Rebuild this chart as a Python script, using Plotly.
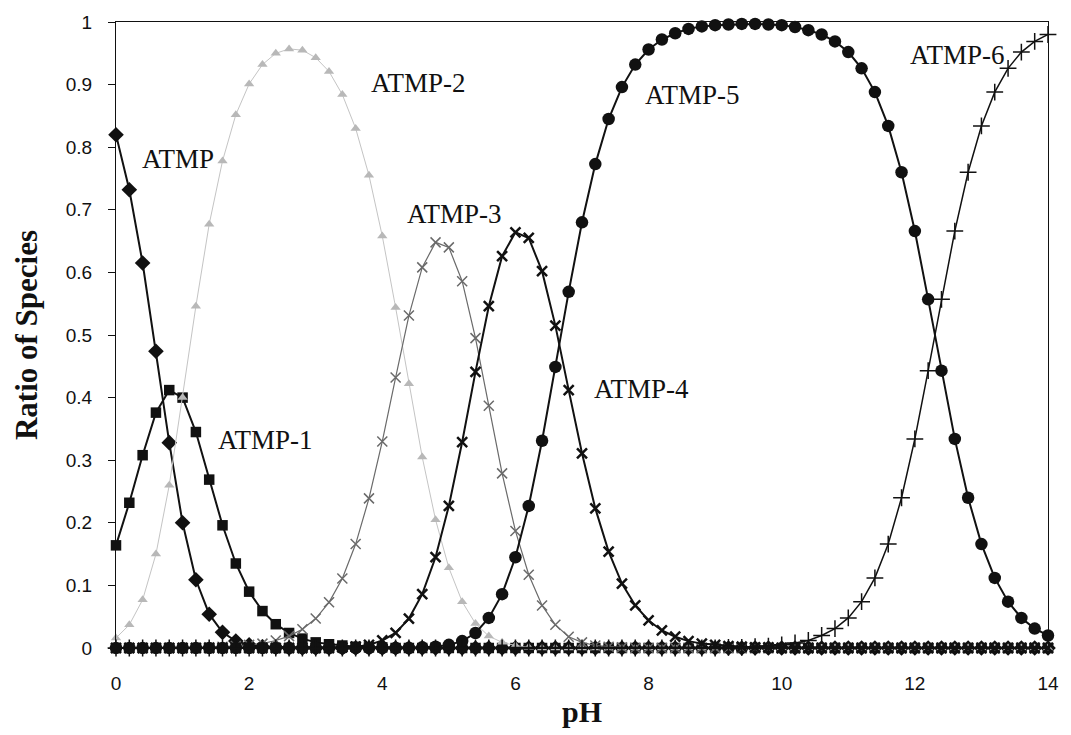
import plotly.graph_objects as go

# pH grid (step 0.2)
ph = [
    0.0, 0.2, 0.4, 0.6, 0.8, 1.0, 1.2, 1.4, 1.6, 1.8,
    2.0, 2.2, 2.4, 2.6, 2.8, 3.0, 3.2, 3.4, 3.6, 3.8,
    4.0, 4.2, 4.4, 4.6, 4.8, 5.0, 5.2, 5.4, 5.6, 5.8,
    6.0, 6.2, 6.4, 6.6, 6.8, 7.0, 7.2, 7.4, 7.6, 7.8,
    8.0, 8.2, 8.4, 8.6, 8.8, 9.0, 9.2, 9.4, 9.6, 9.8,
    10.0, 10.2, 10.4, 10.6, 10.8, 11.0, 11.2, 11.4, 11.6, 11.8,
    12.0, 12.2, 12.4, 12.6, 12.8, 13.0, 13.2, 13.4, 13.6, 13.8,
    14.0,
]

# species fractions
atmp = [
    0.820, 0.732, 0.615, 0.474, 0.328, 0.200, 0.109, 0.054, 0.025, 0.011,
    0.005, 0.002, 0.001, 0, 0, 0, 0, 0, 0, 0,
    0, 0, 0, 0, 0, 0, 0, 0, 0, 0,
    0, 0, 0, 0, 0, 0, 0, 0, 0, 0,
    0, 0, 0, 0, 0, 0, 0, 0, 0, 0,
    0, 0, 0, 0, 0, 0, 0, 0, 0, 0,
    0, 0, 0, 0, 0, 0, 0, 0, 0, 0,
    0,
]
atmp_1 = [
    0.164, 0.232, 0.308, 0.376, 0.412, 0.400, 0.345, 0.269, 0.196, 0.135,
    0.090, 0.059, 0.038, 0.024, 0.015, 0.009, 0.006, 0.004, 0.002, 0.001,
    0.001, 0, 0, 0, 0, 0, 0, 0, 0, 0,
    0, 0, 0, 0, 0, 0, 0, 0, 0, 0,
    0, 0, 0, 0, 0, 0, 0, 0, 0, 0,
    0, 0, 0, 0, 0, 0, 0, 0, 0, 0,
    0, 0, 0, 0, 0, 0, 0, 0, 0, 0,
    0,
]
atmp_2 = [
    0.016, 0.037, 0.077, 0.150, 0.260, 0.400, 0.546, 0.677, 0.778, 0.852,
    0.901, 0.932, 0.950, 0.957, 0.955, 0.943, 0.921, 0.884, 0.830, 0.755,
    0.658, 0.544, 0.422, 0.305, 0.205, 0.128, 0.074, 0.039, 0.019, 0.009,
    0.004, 0.001, 0, 0, 0, 0, 0, 0, 0, 0,
    0, 0, 0, 0, 0, 0, 0, 0, 0, 0,
    0, 0, 0, 0, 0, 0, 0, 0, 0, 0,
    0, 0, 0, 0, 0, 0, 0, 0, 0, 0,
    0,
]
atmp_3 = [
    0, 0, 0, 0, 0, 0, 0, 0.001, 0.002, 0.003,
    0.005, 0.007, 0.012, 0.019, 0.030, 0.047, 0.073, 0.111, 0.166, 0.239,
    0.330, 0.432, 0.531, 0.608, 0.648, 0.640, 0.586, 0.495, 0.387, 0.279,
    0.187, 0.117, 0.068, 0.037, 0.018, 0.009, 0.004, 0.002, 0.001, 0,
    0, 0, 0, 0, 0, 0, 0, 0, 0, 0,
    0, 0, 0, 0, 0, 0, 0, 0, 0, 0,
    0, 0, 0, 0, 0, 0, 0, 0, 0, 0,
    0,
]
atmp_4 = [
    0, 0, 0, 0, 0, 0, 0, 0, 0, 0,
    0, 0, 0, 0, 0, 0, 0, 0.001, 0.002, 0.005,
    0.012, 0.024, 0.047, 0.086, 0.145, 0.227, 0.329, 0.441, 0.546, 0.626,
    0.664, 0.655, 0.602, 0.515, 0.412, 0.311, 0.223, 0.154, 0.103, 0.068,
    0.044, 0.028, 0.018, 0.011, 0.007, 0.005, 0.003, 0.002, 0.001, 0.001,
    0, 0, 0, 0, 0, 0, 0, 0, 0, 0,
    0, 0, 0, 0, 0, 0, 0, 0, 0, 0,
    0,
]
atmp_5 = [
    0, 0, 0, 0, 0, 0, 0, 0, 0, 0,
    0, 0, 0, 0, 0, 0, 0, 0, 0, 0,
    0, 0, 0, 0.001, 0.002, 0.005, 0.011, 0.024, 0.048, 0.086,
    0.145, 0.227, 0.331, 0.449, 0.569, 0.680, 0.773, 0.845, 0.896, 0.932,
    0.956, 0.972, 0.982, 0.989, 0.993, 0.995, 0.996, 0.997, 0.997, 0.996,
    0.995, 0.992, 0.987, 0.980, 0.969, 0.952, 0.926, 0.888, 0.834, 0.760,
    0.666, 0.557, 0.443, 0.334, 0.240, 0.166, 0.112, 0.074, 0.048, 0.031,
    0.020,
]
atmp_6 = [
    0, 0, 0, 0, 0, 0, 0, 0, 0, 0,
    0, 0, 0, 0, 0, 0, 0, 0, 0, 0,
    0, 0, 0, 0, 0, 0, 0, 0, 0, 0,
    0, 0, 0, 0, 0, 0, 0, 0, 0, 0,
    0, 0, 0, 0, 0, 0, 0.001, 0.001, 0.002, 0.003,
    0.005, 0.008, 0.012, 0.020, 0.031, 0.048, 0.074, 0.112, 0.166, 0.240,
    0.334, 0.443, 0.557, 0.666, 0.760, 0.834, 0.888, 0.926, 0.952, 0.969,
    0.980,
]

# curve labels and where they sit (pH, ratio)
label_text = ["ATMP", "ATMP-1", "ATMP-2", "ATMP-3", "ATMP-4", "ATMP-5", "ATMP-6"]
label_x = [0.93, 2.25, 4.55, 5.09, 7.90, 8.66, 12.64]
label_y = [0.781, 0.332, 0.903, 0.694, 0.413, 0.884, 0.948]

BLACK = "#111111"
series = [
    (atmp, dict(symbol="diamond", size=12, color=BLACK), dict(color=BLACK, width=2)),
    (atmp_1, dict(symbol="square", size=10.5, color=BLACK), dict(color=BLACK, width=2)),
    (atmp_2, dict(symbol="triangle-up", size=9, color="#b8b8b8"), dict(color="#c4c4c4", width=1)),
    (atmp_3, dict(symbol="x-thin-open", size=10, color="#6a6a6a",
                  line=dict(color="#6a6a6a", width=1.5)), dict(color="#6a6a6a", width=1.2)),
    (atmp_4, dict(symbol="x-thin-open", size=10, color=BLACK,
                  line=dict(color=BLACK, width=2.5)), dict(color=BLACK, width=2)),
    (atmp_5, dict(symbol="circle", size=12.5, color=BLACK), dict(color=BLACK, width=2)),
    (atmp_6, dict(symbol="cross-thin-open", size=12, color=BLACK,
                  line=dict(color=BLACK, width=1.5)), dict(color=BLACK, width=1.5)),
]

fig = go.Figure()
for (vals, mk, ln), name in zip(series, label_text):
    fig.add_trace(go.Scatter(
        x=ph, y=vals, name=name, mode="lines+markers",
        marker=mk, line=ln, cliponaxis=False, hoverinfo="skip",
    ))

for t, xx, yy in zip(label_text, label_x, label_y):
    fig.add_annotation(
        x=xx, y=yy, xref="x", yref="y", text=t, showarrow=False,
        font=dict(family="Liberation Serif", size=27, color=BLACK),
        xanchor="center", yanchor="middle",
    )

fig.update_layout(
    width=1071, height=735,
    margin=dict(l=116, r=18, t=22, b=83),
    paper_bgcolor="white", plot_bgcolor="white",
    showlegend=False,
    font=dict(family="Liberation Sans", size=19, color=BLACK),
)
fig.update_xaxes(
    range=[0, 14], dtick=2, tick0=0, showgrid=False, zeroline=False,
    showline=True, linecolor=BLACK, linewidth=1, mirror=True,
    ticks="", ticklabelstandoff=18,
    title=dict(text="<b>pH</b>", font=dict(family="Liberation Serif", size=30, color=BLACK),
               standoff=8),
)
fig.update_yaxes(
    range=[0, 1], dtick=0.1, tick0=0, showgrid=False, zeroline=False,
    showline=True, linecolor=BLACK, linewidth=1, mirror=True,
    ticks="outside", ticklen=7, tickcolor=BLACK, ticklabelstandoff=12,
    title=dict(text="<b>Ratio of Species</b>",
               font=dict(family="Liberation Serif", size=31, color=BLACK), standoff=18),
)

fig.write_html("out.html")
